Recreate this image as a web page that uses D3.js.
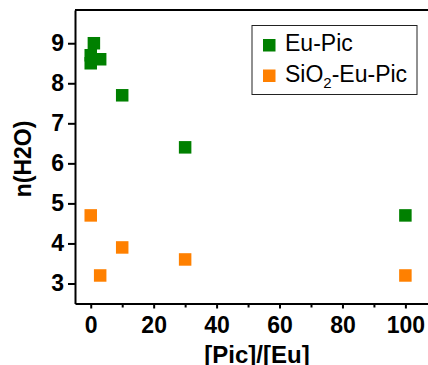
<!DOCTYPE html>
<html>
<head>
<meta charset="utf-8">
<script src="https://cdn.jsdelivr.net/npm/d3@7"></script>
<style>
  body { margin: 0; background: #fff; }
  svg text { font-family: "Liberation Sans", Arial, sans-serif; }
</style>
</head>
<body>
<svg id="chart" width="428" height="365"></svg>
<script>
// data
const euX = [0, 0, 1, 3, 10, 30, 100];
const euY = [8.5, 8.7, 9.0, 8.6, 7.7, 6.4, 4.7];
const sioX = [0, 3, 10, 30, 100];
const sioY = [4.7, 3.2, 3.9, 3.6, 3.2];
const xTicks = [0, 20, 40, 60, 80, 100];
const xMinor = [10, 30, 50, 70, 90];
const yTicks = [3, 4, 5, 6, 7, 8, 9];

const svg = d3.select('#chart');
const plotLeft = 75, plotTop = 10, plotBottom = 303.5, plotRight = 440;

const x = d3.scaleLinear().domain([-5, 111]).range([plotLeft, plotRight]);
const y = d3.scaleLinear().domain([2.5, 9.83]).range([plotBottom, plotTop]);

// x axis
svg.append('g')
  .attr('transform', `translate(0,${plotBottom})`)
  .call(d3.axisBottom(x).tickValues(xTicks).tickSize(5).tickPadding(8).tickSizeOuter(0));
svg.append('g')
  .attr('transform', `translate(0,${plotBottom})`)
  .call(d3.axisBottom(x).tickValues(xMinor).tickSize(4).tickFormat('').tickSizeOuter(0))
  .select('.domain').remove();

// y axis
svg.append('g')
  .attr('transform', `translate(${plotLeft},0)`)
  .call(d3.axisLeft(y).tickValues(yTicks).tickSize(7).tickPadding(4).tickSizeOuter(0));

svg.selectAll('.domain').attr('stroke', '#000').attr('stroke-width', 2);
svg.selectAll('.tick line').attr('stroke', '#000').attr('stroke-width', 2);
svg.selectAll('.tick text')
  .attr('fill', '#000')
  .style('font-size', '23px')
  .style('font-weight', 'bold');

// top frame line
svg.append('line')
  .attr('x1', plotLeft).attr('x2', plotRight)
  .attr('y1', plotTop).attr('y2', plotTop)
  .attr('stroke', '#000').attr('stroke-width', 2);

// axis titles
svg.append('text')
  .attr('x', 257)
  .attr('y', 363)
  .attr('text-anchor', 'middle')
  .style('font-size', '24px')
  .style('font-weight', 'bold')
  .text('[Pic]/[Eu]');

svg.append('text')
  .attr('transform', 'translate(31,159) rotate(-90)')
  .attr('text-anchor', 'middle')
  .style('font-size', '23px')
  .style('font-weight', 'bold')
  .text('n(H2O)');

// points
const size = 12.5;
function drawSquares(xs, ys, color) {
  svg.append('g')
    .selectAll('rect')
    .data(xs.map((d, i) => [d, ys[i]]))
    .enter()
    .append('rect')
    .attr('x', d => x(d[0]) - size / 2)
    .attr('y', d => y(d[1]) - size / 2)
    .attr('width', size)
    .attr('height', size)
    .attr('fill', color);
}
drawSquares(euX, euY, '#008000');
drawSquares(sioX, sioY, '#ff8000');

// legend
const legend = svg.append('g');
legend.append('rect')
  .attr('x', 252).attr('y', 25.5)
  .attr('width', 165).attr('height', 69)
  .attr('fill', '#fff')
  .attr('stroke', '#222').attr('stroke-width', 1);
legend.append('rect')
  .attr('x', 263).attr('y', 39).attr('width', 12.5).attr('height', 12.5)
  .attr('fill', '#008000');
legend.append('rect')
  .attr('x', 263).attr('y', 69.5).attr('width', 12.5).attr('height', 12.5)
  .attr('fill', '#ff8000');
legend.append('text')
  .attr('x', 285).attr('y', 50.5)
  .style('font-size', '23px')
  .text('Eu-Pic');
const t2 = legend.append('text')
  .attr('x', 285).attr('y', 81.5)
  .style('font-size', '23px');
t2.append('tspan').text('SiO');
t2.append('tspan').attr('dy', 6).style('font-size', '15px').text('2');
t2.append('tspan').attr('dy', -6).text('-Eu-Pic');
</script>
</body>
</html>
